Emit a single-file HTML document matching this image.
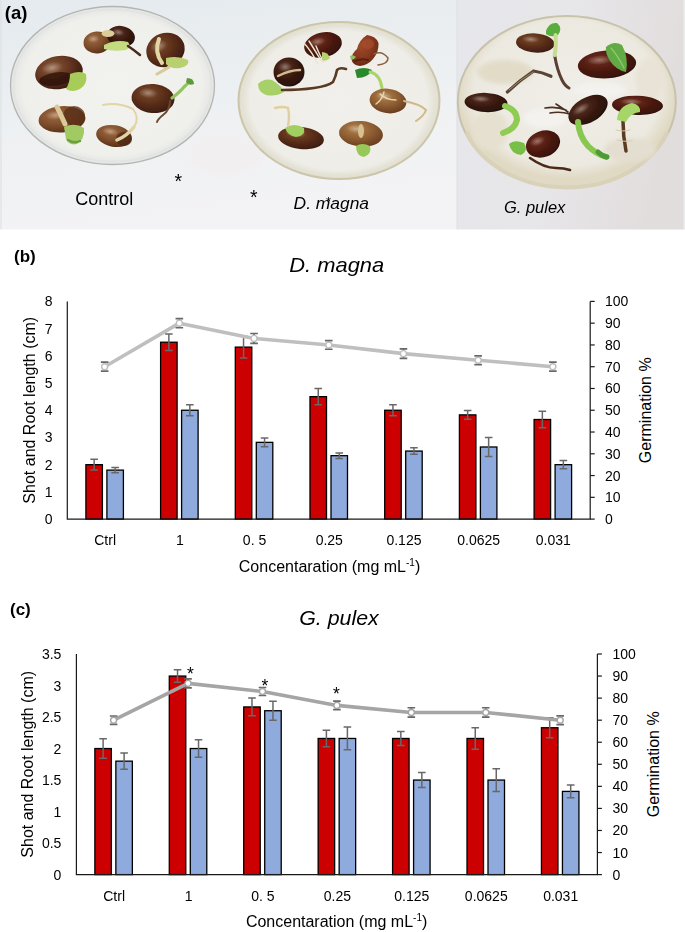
<!DOCTYPE html>
<html><head><meta charset="utf-8"><style>
html,body{margin:0;padding:0;background:#fff;}
svg{display:block;}
text{font-family:"Liberation Sans", sans-serif;fill:#000;}
</style></head><body>
<svg width="685" height="932" viewBox="0 0 685 932">
<rect width="685" height="932" fill="#fff"/>
<defs>
<filter id="bl" x="-10%" y="-10%" width="120%" height="120%"><feGaussianBlur stdDeviation="0.6"/></filter>
<filter id="bl3" x="-30%" y="-30%" width="160%" height="160%"><feGaussianBlur stdDeviation="2.2"/></filter>
<linearGradient id="bgL" x1="0" y1="0" x2="0.25" y2="1">
<stop offset="0" stop-color="#e4eaee"/><stop offset="0.5" stop-color="#edf0f2"/><stop offset="1" stop-color="#f3f3f5"/>
</linearGradient>
<linearGradient id="bgR" x1="0" y1="0" x2="1" y2="0.2">
<stop offset="0" stop-color="#e6e7eb"/><stop offset="0.5" stop-color="#e7e6e9"/><stop offset="1" stop-color="#e2dddd"/>
</linearGradient>
<radialGradient id="p1" cx="0.5" cy="0.5" r="0.5">
<stop offset="0" stop-color="#f2f2ef"/><stop offset="0.88" stop-color="#efefec"/><stop offset="1" stop-color="#e4e6e3"/>
</radialGradient>
<radialGradient id="p2" cx="0.5" cy="0.5" r="0.5">
<stop offset="0" stop-color="#f1f0ec"/><stop offset="0.88" stop-color="#eeede7"/><stop offset="1" stop-color="#e0ddcc"/>
</radialGradient>
<radialGradient id="p3" cx="0.5" cy="0.45" r="0.5">
<stop offset="0" stop-color="#f0eee8"/><stop offset="0.85" stop-color="#ece9e0"/><stop offset="1" stop-color="#e0d9c4"/>
</radialGradient>
<radialGradient id="hl" cx="0.5" cy="0.5" r="0.5">
<stop offset="0" stop-color="#fff" stop-opacity="0.35"/><stop offset="1" stop-color="#fff" stop-opacity="0"/>
</radialGradient>

<radialGradient id="sA" cx="0.38" cy="0.32" r="0.7"><stop offset="0" stop-color="#8a5a38"/><stop offset="0.55" stop-color="#623420"/><stop offset="1" stop-color="#3a1a0e"/></radialGradient>
<radialGradient id="sB" cx="0.38" cy="0.32" r="0.7"><stop offset="0" stop-color="#7a4a2c"/><stop offset="0.55" stop-color="#5a2e18"/><stop offset="1" stop-color="#3e1c10"/></radialGradient>
<radialGradient id="sR" cx="0.38" cy="0.32" r="0.7"><stop offset="0" stop-color="#6e2c1a"/><stop offset="0.55" stop-color="#4e1a10"/><stop offset="1" stop-color="#34100a"/></radialGradient>
<radialGradient id="sK" cx="0.38" cy="0.32" r="0.7"><stop offset="0" stop-color="#583020"/><stop offset="0.55" stop-color="#3a1a10"/><stop offset="1" stop-color="#24100a"/></radialGradient>
<radialGradient id="sL" cx="0.38" cy="0.32" r="0.7"><stop offset="0" stop-color="#b0804c"/><stop offset="0.55" stop-color="#8e5e32"/><stop offset="1" stop-color="#6a3e20"/></radialGradient>
<radialGradient id="sT" cx="0.38" cy="0.32" r="0.7"><stop offset="0" stop-color="#a06a40"/><stop offset="0.55" stop-color="#7e4e2c"/><stop offset="1" stop-color="#5a3018"/></radialGradient>
<radialGradient id="sRR" cx="0.38" cy="0.32" r="0.7"><stop offset="0" stop-color="#a04a2a"/><stop offset="0.55" stop-color="#8a3a20"/><stop offset="1" stop-color="#6a2814"/></radialGradient>
</defs>
<g id="photo">
<rect x="0" y="0" width="457" height="229.5" fill="url(#bgL)"/>
<rect x="457" y="0" width="227.5" height="229.5" fill="url(#bgR)"/>
<ellipse cx="225" cy="155" rx="40" ry="22" fill="#f3eeef" filter="url(#bl3)" opacity="0.5"/>
<rect x="0.5" y="0" width="1" height="229.5" fill="#dadfe2"/>
<rect x="456.5" y="0" width="1" height="229.5" fill="#dcdfe3"/>
<rect x="683.5" y="0" width="1" height="229.5" fill="#ecebeb"/>
<ellipse cx="112.5" cy="85.5" rx="102" ry="79" fill="url(#p1)" stroke="#b2b5b3" stroke-width="1.3"/>
<ellipse cx="112.5" cy="85.5" rx="99" ry="76" fill="none" stroke="#e2e4e2" stroke-width="2"/>
<ellipse cx="339" cy="100.5" rx="100.5" ry="78.5" fill="url(#p2)" stroke="#cbc6aa" stroke-width="2"/>
<ellipse cx="339" cy="100.5" rx="97" ry="75" fill="none" stroke="#e4e2d6" stroke-width="2"/>
<ellipse cx="566.8" cy="101.6" rx="109" ry="85.5" fill="url(#p3)" stroke="#c6c2ac" stroke-width="2"/>
<path d="M667.3 131.9 A106.5 83 0 0 1 466.3 131.9" fill="none" stroke="#d9d1b8" stroke-width="4" filter="url(#bl)"/>
<ellipse cx="505" cy="72" rx="28" ry="12" fill="#e2dbc8" filter="url(#bl3)"/>
<ellipse cx="490" cy="130" rx="18" ry="20" fill="#e6e0d0" filter="url(#bl3)"/>
<ellipse cx="630" cy="150" rx="26" ry="12" fill="#e4ded0" filter="url(#bl3)"/>
<ellipse cx="545" cy="118" rx="22" ry="10" fill="#f3f2ee" filter="url(#bl3)"/>
<ellipse cx="600" cy="90" rx="26" ry="8" fill="#f3f2ee" filter="url(#bl3)"/>
<ellipse cx="650" cy="80" rx="14" ry="22" fill="#e8e3d6" filter="url(#bl3)"/>
<g filter="url(#bl)">
<ellipse cx="59" cy="72.5" rx="24" ry="16.5" transform="rotate(-10 59 72.5)" fill="url(#sA)"/>
<ellipse cx="53" cy="66.725" rx="10.8" ry="5.775" transform="rotate(-10 59 72.5)" fill="url(#hl)"/>
<ellipse cx="56" cy="79" rx="17" ry="6.5" transform="rotate(-8 56 79)" fill="#2a1008" opacity="0.75"/>
<path d="M70 74 Q80 70 86 74 Q88 84 80 89 Q72 93 66 89 Q70 82 70 74Z" fill="#a8cc5a"/>
<ellipse cx="97" cy="42.5" rx="13.5" ry="11" transform="rotate(-5 97 42.5)" fill="url(#sT)"/>
<ellipse cx="93.625" cy="38.65" rx="6.075" ry="3.85" transform="rotate(-5 97 42.5)" fill="url(#hl)"/>
<ellipse cx="121" cy="36.5" rx="14" ry="10.5" transform="rotate(10 121 36.5)" fill="url(#sK)"/>
<ellipse cx="117.5" cy="32.825" rx="6.3" ry="3.675" transform="rotate(10 121 36.5)" fill="url(#hl)"/>
<ellipse cx="108" cy="33.5" rx="6.5" ry="3.5" fill="#dccc9a"/>
<path d="M104 45 Q116 39 128 42 Q132 47 126 50 Q114 52 104 49Z" fill="#c4da80"/>
<path d="M128 46 Q134 50 140 55" fill="none" stroke="#4a2a1a" stroke-width="2.5" stroke-linecap="round"/>
<ellipse cx="165.5" cy="50" rx="19.5" ry="17" transform="rotate(-20 165.5 50)" fill="url(#sB)"/>
<ellipse cx="160.625" cy="44.05" rx="8.775" ry="5.95" transform="rotate(-20 165.5 50)" fill="url(#hl)"/>
<path d="M159 39 Q154 52 162 63" fill="none" stroke="#e2d6a4" stroke-width="4" stroke-linecap="round"/>
<path d="M166 58 Q178 55 188 60 Q190 66 180 68 Q170 69 166 64Z" fill="#b8d070"/>
<path d="M157 74 Q163 71 169 67" fill="none" stroke="#d8c89a" stroke-width="3" stroke-linecap="round"/>
<ellipse cx="153" cy="98.5" rx="21.5" ry="14.5" transform="rotate(5 153 98.5)" fill="url(#sB)"/>
<ellipse cx="147.625" cy="93.425" rx="9.675" ry="5.075" transform="rotate(5 153 98.5)" fill="url(#hl)"/>
<path d="M172 98 Q180 92 184 87 Q188 83 191 81" fill="none" stroke="#94c462" stroke-width="3.2" stroke-linecap="round"/>
<path d="M187 78 Q194 78 194 84 Q189 86 186 82Z" fill="#5c9a3c"/>
<path d="M170 101 Q170 110 163 115 Q158 119 157 122" fill="none" stroke="#6a4a30" stroke-width="2" stroke-linecap="round"/>
<ellipse cx="62" cy="119.3" rx="23.5" ry="13.2" transform="rotate(-4 62 119.3)" fill="url(#sT)"/>
<ellipse cx="56.125" cy="114.68" rx="10.575" ry="4.62" transform="rotate(-4 62 119.3)" fill="url(#hl)"/>
<ellipse cx="74" cy="116" rx="11" ry="10" fill="#5a3018" opacity="0.8"/>
<path d="M57 107 Q61 115 65 124" fill="none" stroke="#dcc898" stroke-width="5" stroke-linecap="round"/>
<path d="M64 127 Q75 122 84 128 Q85 139 77 144 Q69 146 66 139Z" fill="#a2ca62"/>
<path d="M68 140 Q74 144 80 141" fill="none" stroke="#6aa040" stroke-width="2.5" stroke-linecap="round"/>
<ellipse cx="114" cy="136" rx="18" ry="10.8" transform="rotate(10 114 136)" fill="url(#sT)"/>
<ellipse cx="109.5" cy="132.22" rx="8.1" ry="3.78" transform="rotate(10 114 136)" fill="url(#hl)"/>
<ellipse cx="124" cy="139" rx="8" ry="7" fill="#4e2814" opacity="0.75"/>
<path d="M103 105 Q118 102 133 109 Q140 118 134 127" fill="none" stroke="#e2d4a6" stroke-width="2" stroke-linecap="round"/>
<path d="M134 127 Q127 136 117 140" fill="none" stroke="#e2d4a6" stroke-width="3.5" stroke-linecap="round"/>
<ellipse cx="323" cy="45" rx="19" ry="12.5" transform="rotate(-12 323 45)" fill="url(#sR)"/>
<ellipse cx="318.25" cy="40.625" rx="8.55" ry="4.375" transform="rotate(-12 323 45)" fill="url(#hl)"/>
<path d="M304 43 Q312 52 318 64 M309 41 Q316 52 322 62 M316 46 Q320 56 324 62" fill="none" stroke="#ece4d0" stroke-width="1.4" stroke-linecap="round"/>
<path d="M322 52 Q328 52 330 58 Q326 62 322 60Z" fill="#b8d070"/>
<path d="M367 35 Q376 36 378.5 43 Q379 52 373 59 Q368 65 360 66 Q352 65 351.5 59 Q352 53 357 49 Q359 40 367 35Z" fill="url(#sRR)"/>
<ellipse cx="368" cy="44" rx="6" ry="5" fill="#a85030" opacity="0.6"/>
<path d="M355 61 Q362 58 368 60" fill="none" stroke="#5a2010" stroke-width="2" stroke-linecap="round"/>
<path d="M350 56 Q353 54 356 57 Q354 60 351 60Z" fill="#8cc060"/>
<path d="M374 54 Q382 50 388 58 Q388 64 378 65" fill="none" stroke="#8a6040" stroke-width="1.5" stroke-linecap="round"/>
<ellipse cx="289" cy="72" rx="15.5" ry="14.5" transform="rotate(0 289 72)" fill="url(#sK)"/>
<ellipse cx="285.125" cy="66.925" rx="6.975" ry="5.075" transform="rotate(0 289 72)" fill="url(#hl)"/>
<path d="M278 76 Q290 70 300 70" fill="none" stroke="#d0bc90" stroke-width="2.5" stroke-linecap="round"/>
<path d="M258 84 Q264 78 272 80 Q282 86 284 92 Q276 97 266 95 Q258 92 258 84Z" fill="#a8d068"/>
<path d="M282 90 Q300 90 314 88 Q328 86 333 82 Q336 76 337 70 Q340 67 346 69" fill="none" stroke="#5a3a22" stroke-width="2.6" stroke-linecap="round"/>
<path d="M355 70 Q364 66 372 70 Q368 78 357 78Z" fill="#2a8a2a"/>
<path d="M370 72 Q380 74 382 88" fill="none" stroke="#a8d468" stroke-width="3" stroke-linecap="round"/>
<ellipse cx="388" cy="101" rx="18.5" ry="12.2" transform="rotate(8 388 101)" fill="url(#sL)"/>
<ellipse cx="383.375" cy="96.73" rx="8.325" ry="4.27" transform="rotate(8 388 101)" fill="url(#hl)"/>
<path d="M380 94 Q386 100 396 100 M384 92 Q382 100 376 104" fill="none" stroke="#e6d8b0" stroke-width="1.4" stroke-linecap="round"/>
<path d="M404 101 Q420 104 426 110 Q424 116 416 121" fill="none" stroke="#d0b888" stroke-width="2" stroke-linecap="round"/>
<ellipse cx="301" cy="138" rx="23" ry="11" transform="rotate(6 301 138)" fill="url(#sB)"/>
<ellipse cx="295.25" cy="134.15" rx="10.35" ry="3.85" transform="rotate(6 301 138)" fill="url(#hl)"/>
<path d="M285 128 Q294 122 304 128 Q306 136 296 137 Q288 136 285 128Z" fill="#a0d060"/>
<path d="M288 126 Q290 116 288 108 Q282 106 275 108" fill="none" stroke="#e0d0a0" stroke-width="2.4" stroke-linecap="round"/>
<ellipse cx="361" cy="133.8" rx="22" ry="12.8" transform="rotate(5 361 133.8)" fill="url(#sL)"/>
<ellipse cx="355.5" cy="129.32" rx="9.9" ry="4.48" transform="rotate(5 361 133.8)" fill="url(#hl)"/>
<ellipse cx="361" cy="131" rx="3" ry="7" fill="#d8c090"/>
<path d="M356 146 Q362 142 370 146 Q372 154 364 157 Q356 156 356 146Z" fill="#98c858"/>
<path d="M554.6 55 Q557 70 562 80 Q565 86 569 88" fill="none" stroke="#5a4030" stroke-width="3" stroke-linecap="round"/>
<path d="M507.3 92 Q520 80 533.6 71 Q542 72 551 76.3" fill="none" stroke="#5a4434" stroke-width="3.2" stroke-linecap="round"/>
<path d="M509 90 Q521 79 533 72" fill="none" stroke="#9a8a70" stroke-width="1" stroke-linecap="round"/>
<ellipse cx="535.3" cy="43" rx="19.3" ry="9.6" transform="rotate(4 535.3 43)" fill="url(#sB)"/>
<ellipse cx="530.475" cy="39.64" rx="8.685" ry="3.36" transform="rotate(4 535.3 43)" fill="url(#hl)"/>
<path d="M546 31 Q549 22 557 23 Q563 28 558 35 Q551 38 546 34Z" fill="#58ae3e"/>
<path d="M555.5 35 Q556.5 46 554.6 55" fill="none" stroke="#c8dc90" stroke-width="4" stroke-linecap="round"/>
<ellipse cx="607" cy="64.4" rx="29.2" ry="14" transform="rotate(-4 607 64.4)" fill="url(#sR)"/>
<ellipse cx="599.7" cy="59.5" rx="13.14" ry="4.9" transform="rotate(-4 607 64.4)" fill="url(#hl)"/>
<path d="M606 47 Q614 40 622 45 Q629 58 626 72 Q616 70 610 61 Q605 53 606 47Z" fill="#62aa44"/>
<path d="M611 48 Q618 56 624 68" fill="none" stroke="#8ccc6c" stroke-width="1.2" stroke-linecap="round"/>
<ellipse cx="486" cy="102.5" rx="21.5" ry="9.6" transform="rotate(3 486 102.5)" fill="url(#sK)"/>
<ellipse cx="480.625" cy="99.14" rx="9.675" ry="3.36" transform="rotate(3 486 102.5)" fill="url(#hl)"/>
<path d="M505 106 Q517 110 517 120 Q515 129 503 133" fill="none" stroke="#90cc52" stroke-width="6" stroke-linecap="round"/>
<path d="M545 108 Q556 106 566 110 M550 113 Q560 111 570 114 M556 104 Q562 108 568 112" fill="none" stroke="#4a3020" stroke-width="1.6" stroke-linecap="round"/>
<ellipse cx="588" cy="110" rx="21.5" ry="12.5" transform="rotate(-30 588 110)" fill="url(#sK)"/>
<ellipse cx="582.625" cy="105.625" rx="9.675" ry="4.375" transform="rotate(-30 588 110)" fill="url(#hl)"/>
<path d="M578 122 Q579 136 588 146 Q596 154 606 157" fill="none" stroke="#88c850" stroke-width="6" stroke-linecap="round"/>
<path d="M598 152 Q602 156 607 157" fill="none" stroke="#4f9a38" stroke-width="5" stroke-linecap="round"/>
<ellipse cx="637.5" cy="105.3" rx="25.5" ry="9.6" transform="rotate(2 637.5 105.3)" fill="url(#sR)"/>
<ellipse cx="631.125" cy="101.94" rx="11.475" ry="3.36" transform="rotate(2 637.5 105.3)" fill="url(#hl)"/>
<path d="M623 121 Q623 136 626 151" fill="none" stroke="#5a3a24" stroke-width="3.5" stroke-linecap="round"/>
<path d="M616 130 Q622 132 630 130 M617 140 Q623 142 632 141" fill="none" stroke="#d8cca8" stroke-width="1" stroke-linecap="round"/>
<path d="M617 120 Q618 106 632 103 Q641 105 640 112 Q630 113 626 122Z" fill="#a6d668"/>
<path d="M530 158 Q544 168 556 168 Q564 168 570 170" fill="none" stroke="#4a2a18" stroke-width="2.6" stroke-linecap="round"/>
<ellipse cx="543" cy="144" rx="17.5" ry="13" transform="rotate(-20 543 144)" fill="url(#sR)"/>
<ellipse cx="538.625" cy="139.45" rx="7.875" ry="4.55" transform="rotate(-20 543 144)" fill="url(#hl)"/>
<path d="M509 144 Q514 139 524 143 Q529 151 521 155 Q511 154 509 144Z" fill="#78be46"/>
</g>
<text x="4.8" y="18.6" font-size="18.5" font-weight="bold">(a)</text>
<text x="178.3" y="188" font-size="19.5" text-anchor="middle">*</text>
<text x="253.9" y="204" font-size="19.5" text-anchor="middle">*</text>
<text x="75.3" y="205" font-size="18">Control</text>
<text x="293.6" y="208.5" font-size="17.4" font-style="italic">D. magna</text>
<text x="328.6" y="206" font-size="13" text-anchor="middle">*</text>
<text x="503.9" y="213" font-size="16.5" font-style="italic">G. pulex</text>
</g>
<g>
<rect x="85.9" y="464.68" width="16.5" height="54.43" fill="#CC0000" stroke="#000" stroke-width="1.3"/>
<rect x="106.9" y="470.12" width="16.5" height="48.98" fill="#8FAADC" stroke="#000" stroke-width="1.3"/>
<rect x="160.6" y="342.22" width="16.5" height="176.88" fill="#CC0000" stroke="#000" stroke-width="1.3"/>
<rect x="181.6" y="410.25" width="16.5" height="108.85" fill="#8FAADC" stroke="#000" stroke-width="1.3"/>
<rect x="235.3" y="347.12" width="16.5" height="171.98" fill="#CC0000" stroke="#000" stroke-width="1.3"/>
<rect x="256.3" y="442.36" width="16.5" height="76.74" fill="#8FAADC" stroke="#000" stroke-width="1.3"/>
<rect x="310" y="396.64" width="16.5" height="122.46" fill="#CC0000" stroke="#000" stroke-width="1.3"/>
<rect x="331" y="455.69" width="16.5" height="63.41" fill="#8FAADC" stroke="#000" stroke-width="1.3"/>
<rect x="384.7" y="410.25" width="16.5" height="108.85" fill="#CC0000" stroke="#000" stroke-width="1.3"/>
<rect x="405.7" y="451.07" width="16.5" height="68.03" fill="#8FAADC" stroke="#000" stroke-width="1.3"/>
<rect x="459.4" y="414.88" width="16.5" height="104.22" fill="#CC0000" stroke="#000" stroke-width="1.3"/>
<rect x="480.4" y="446.99" width="16.5" height="72.11" fill="#8FAADC" stroke="#000" stroke-width="1.3"/>
<rect x="534.1" y="419.5" width="16.5" height="99.6" fill="#CC0000" stroke="#000" stroke-width="1.3"/>
<rect x="555.1" y="464.68" width="16.5" height="54.43" fill="#8FAADC" stroke="#000" stroke-width="1.3"/>
<path d="M94.15 459.23V470.12M90.35 459.23H97.95M90.35 470.12H97.95" stroke="#686868" stroke-width="1.5" fill="none"/>
<path d="M115.15 467.4V472.84M111.35 467.4H118.95M111.35 472.84H118.95" stroke="#686868" stroke-width="1.5" fill="none"/>
<path d="M168.85 334.05V350.38M165.05 334.05H172.65M165.05 350.38H172.65" stroke="#686868" stroke-width="1.5" fill="none"/>
<path d="M189.85 404.81V415.69M186.05 404.81H193.65M186.05 415.69H193.65" stroke="#686868" stroke-width="1.5" fill="none"/>
<path d="M243.55 336.23V358M239.75 336.23H247.35M239.75 358H247.35" stroke="#686868" stroke-width="1.5" fill="none"/>
<path d="M264.55 438.01V446.71M260.75 438.01H268.35M260.75 446.71H268.35" stroke="#686868" stroke-width="1.5" fill="none"/>
<path d="M318.25 388.48V404.81M314.45 388.48H322.05M314.45 404.81H322.05" stroke="#686868" stroke-width="1.5" fill="none"/>
<path d="M339.25 452.97V458.42M335.45 452.97H343.05M335.45 458.42H343.05" stroke="#686868" stroke-width="1.5" fill="none"/>
<path d="M392.95 404.81V415.69M389.15 404.81H396.75M389.15 415.69H396.75" stroke="#686868" stroke-width="1.5" fill="none"/>
<path d="M413.95 447.8V454.33M410.15 447.8H417.75M410.15 454.33H417.75" stroke="#686868" stroke-width="1.5" fill="none"/>
<path d="M467.65 410.52V419.23M463.85 410.52H471.45M463.85 419.23H471.45" stroke="#686868" stroke-width="1.5" fill="none"/>
<path d="M488.65 437.46V456.51M484.85 437.46H492.45M484.85 456.51H492.45" stroke="#686868" stroke-width="1.5" fill="none"/>
<path d="M542.35 411.34V427.67M538.55 411.34H546.15M538.55 427.67H546.15" stroke="#686868" stroke-width="1.5" fill="none"/>
<path d="M563.35 460.59V468.76M559.55 460.59H567.15M559.55 468.76H567.15" stroke="#686868" stroke-width="1.5" fill="none"/>
<path d="M67.3 301.4V519.1H590.2V301.4" stroke="#1a1a1a" stroke-width="1.2" fill="none"/>
<path d="M590.2 519.1H594.7" stroke="#1a1a1a" stroke-width="1.2"/>
<path d="M590.2 497.33H594.7" stroke="#1a1a1a" stroke-width="1.2"/>
<path d="M590.2 475.56H594.7" stroke="#1a1a1a" stroke-width="1.2"/>
<path d="M590.2 453.79H594.7" stroke="#1a1a1a" stroke-width="1.2"/>
<path d="M590.2 432.02H594.7" stroke="#1a1a1a" stroke-width="1.2"/>
<path d="M590.2 410.25H594.7" stroke="#1a1a1a" stroke-width="1.2"/>
<path d="M590.2 388.48H594.7" stroke="#1a1a1a" stroke-width="1.2"/>
<path d="M590.2 366.71H594.7" stroke="#1a1a1a" stroke-width="1.2"/>
<path d="M590.2 344.94H594.7" stroke="#1a1a1a" stroke-width="1.2"/>
<path d="M590.2 323.17H594.7" stroke="#1a1a1a" stroke-width="1.2"/>
<path d="M590.2 301.4H594.7" stroke="#1a1a1a" stroke-width="1.2"/>
<polyline points="104.65,366.71 179.35,323.17 254.05,338.41 328.75,344.94 403.45,353.65 478.15,360.18 552.85,366.71" fill="none" stroke="#BFBFBF" stroke-width="3.6" stroke-linejoin="round"/>
<path d="M104.65 362.21V371.21M100.85 362.21H108.45M100.85 371.21H108.45" stroke="#686868" stroke-width="1.7" fill="none"/>
<circle cx="104.65" cy="366.71" r="3.0" fill="#fff" stroke="#BFBFBF" stroke-width="1.4"/>
<path d="M179.35 318.57V327.77M175.55 318.57H183.15M175.55 327.77H183.15" stroke="#686868" stroke-width="1.7" fill="none"/>
<circle cx="179.35" cy="323.17" r="3.0" fill="#fff" stroke="#BFBFBF" stroke-width="1.4"/>
<path d="M254.05 333.51V343.31M250.25 333.51H257.85M250.25 343.31H257.85" stroke="#686868" stroke-width="1.7" fill="none"/>
<circle cx="254.05" cy="338.41" r="3.0" fill="#fff" stroke="#BFBFBF" stroke-width="1.4"/>
<path d="M328.75 340.64V349.24M324.95 340.64H332.55M324.95 349.24H332.55" stroke="#686868" stroke-width="1.7" fill="none"/>
<circle cx="328.75" cy="344.94" r="3.0" fill="#fff" stroke="#BFBFBF" stroke-width="1.4"/>
<path d="M403.45 348.85V358.45M399.65 348.85H407.25M399.65 358.45H407.25" stroke="#686868" stroke-width="1.7" fill="none"/>
<circle cx="403.45" cy="353.65" r="3.0" fill="#fff" stroke="#BFBFBF" stroke-width="1.4"/>
<path d="M478.15 355.78V364.58M474.35 355.78H481.95M474.35 364.58H481.95" stroke="#686868" stroke-width="1.7" fill="none"/>
<circle cx="478.15" cy="360.18" r="3.0" fill="#fff" stroke="#BFBFBF" stroke-width="1.4"/>
<path d="M552.85 362.21V371.21M549.05 362.21H556.65M549.05 371.21H556.65" stroke="#686868" stroke-width="1.7" fill="none"/>
<circle cx="552.85" cy="366.71" r="3.0" fill="#fff" stroke="#BFBFBF" stroke-width="1.4"/>
<text x="52.6" y="524.1" font-size="14" text-anchor="end">0</text>
<text x="52.6" y="496.89" font-size="14" text-anchor="end">1</text>
<text x="52.6" y="469.68" font-size="14" text-anchor="end">2</text>
<text x="52.6" y="442.46" font-size="14" text-anchor="end">3</text>
<text x="52.6" y="415.25" font-size="14" text-anchor="end">4</text>
<text x="52.6" y="388.04" font-size="14" text-anchor="end">5</text>
<text x="52.6" y="360.82" font-size="14" text-anchor="end">6</text>
<text x="52.6" y="333.61" font-size="14" text-anchor="end">7</text>
<text x="52.6" y="306.4" font-size="14" text-anchor="end">8</text>
<text x="605" y="524.1" font-size="14">0</text>
<text x="605" y="502.33" font-size="14">10</text>
<text x="605" y="480.56" font-size="14">20</text>
<text x="605" y="458.79" font-size="14">30</text>
<text x="605" y="437.02" font-size="14">40</text>
<text x="605" y="415.25" font-size="14">50</text>
<text x="605" y="393.48" font-size="14">60</text>
<text x="605" y="371.71" font-size="14">70</text>
<text x="605" y="349.94" font-size="14">80</text>
<text x="605" y="328.17" font-size="14">90</text>
<text x="605" y="306.4" font-size="14">100</text>
<text x="105.15" y="545" font-size="14" text-anchor="middle">Ctrl</text>
<text x="179.85" y="545" font-size="14" text-anchor="middle">1</text>
<text x="254.55" y="545" font-size="14" text-anchor="middle">0. 5</text>
<text x="329.25" y="545" font-size="14" text-anchor="middle">0.25</text>
<text x="403.95" y="545" font-size="14" text-anchor="middle">0.125</text>
<text x="478.65" y="545" font-size="14" text-anchor="middle">0.0625</text>
<text x="553.35" y="545" font-size="14" text-anchor="middle">0.031</text>
<text x="329.5" y="571.7" font-size="16" text-anchor="middle">Concentaration (mg mL<tspan font-size="10" dy="-6">-1</tspan><tspan dy="6">)</tspan></text>
<text transform="translate(35 410.25) rotate(-90)" font-size="16" text-anchor="middle">Shot and Root length (cm)</text>
<text transform="translate(651.4 410.25) rotate(-90)" font-size="16" text-anchor="middle">Germination %</text>
<text x="289.2" y="272.4" font-size="21" font-style="italic" textLength="95" lengthAdjust="spacingAndGlyphs">D. magna</text>
<text x="14" y="261.5" font-size="17" font-weight="bold">(b)</text>
</g>
<g>
<rect x="94.86" y="748.54" width="16.5" height="126.06" fill="#CC0000" stroke="#000" stroke-width="1.3"/>
<rect x="115.86" y="761.15" width="16.5" height="113.45" fill="#8FAADC" stroke="#000" stroke-width="1.3"/>
<rect x="169.29" y="676.06" width="16.5" height="198.54" fill="#CC0000" stroke="#000" stroke-width="1.3"/>
<rect x="190.29" y="748.54" width="16.5" height="126.06" fill="#8FAADC" stroke="#000" stroke-width="1.3"/>
<rect x="243.72" y="706.94" width="16.5" height="167.66" fill="#CC0000" stroke="#000" stroke-width="1.3"/>
<rect x="264.72" y="710.73" width="16.5" height="163.87" fill="#8FAADC" stroke="#000" stroke-width="1.3"/>
<rect x="318.15" y="738.46" width="16.5" height="136.14" fill="#CC0000" stroke="#000" stroke-width="1.3"/>
<rect x="339.15" y="738.46" width="16.5" height="136.14" fill="#8FAADC" stroke="#000" stroke-width="1.3"/>
<rect x="392.58" y="738.46" width="16.5" height="136.14" fill="#CC0000" stroke="#000" stroke-width="1.3"/>
<rect x="413.58" y="780.06" width="16.5" height="94.54" fill="#8FAADC" stroke="#000" stroke-width="1.3"/>
<rect x="467.01" y="738.46" width="16.5" height="136.14" fill="#CC0000" stroke="#000" stroke-width="1.3"/>
<rect x="488.01" y="780.06" width="16.5" height="94.54" fill="#8FAADC" stroke="#000" stroke-width="1.3"/>
<rect x="541.44" y="727.74" width="16.5" height="146.86" fill="#CC0000" stroke="#000" stroke-width="1.3"/>
<rect x="562.44" y="791.4" width="16.5" height="83.2" fill="#8FAADC" stroke="#000" stroke-width="1.3"/>
<path d="M103.11 738.77V758.31M99.31 738.77H106.91M99.31 758.31H106.91" stroke="#686868" stroke-width="1.5" fill="none"/>
<path d="M124.11 752.95V769.34M120.31 752.95H127.91M120.31 769.34H127.91" stroke="#686868" stroke-width="1.5" fill="none"/>
<path d="M177.54 669.76V682.36M173.74 669.76H181.34M173.74 682.36H181.34" stroke="#686868" stroke-width="1.5" fill="none"/>
<path d="M198.54 739.72V757.37M194.74 739.72H202.34M194.74 757.37H202.34" stroke="#686868" stroke-width="1.5" fill="none"/>
<path d="M251.97 698.12V715.77M248.17 698.12H255.77M248.17 715.77H255.77" stroke="#686868" stroke-width="1.5" fill="none"/>
<path d="M272.97 701.27V720.18M269.17 701.27H276.77M269.17 720.18H276.77" stroke="#686868" stroke-width="1.5" fill="none"/>
<path d="M326.4 730.26V746.65M322.6 730.26H330.2M322.6 746.65H330.2" stroke="#686868" stroke-width="1.5" fill="none"/>
<path d="M347.4 727.11V749.8M343.6 727.11H351.2M343.6 749.8H351.2" stroke="#686868" stroke-width="1.5" fill="none"/>
<path d="M400.83 731.53V745.39M397.03 731.53H404.63M397.03 745.39H404.63" stroke="#686868" stroke-width="1.5" fill="none"/>
<path d="M421.83 772.49V787.62M418.03 772.49H425.63M418.03 787.62H425.63" stroke="#686868" stroke-width="1.5" fill="none"/>
<path d="M475.26 727.74V749.17M471.46 727.74H479.06M471.46 749.17H479.06" stroke="#686868" stroke-width="1.5" fill="none"/>
<path d="M496.26 768.71V791.4M492.46 768.71H500.06M492.46 791.4H500.06" stroke="#686868" stroke-width="1.5" fill="none"/>
<path d="M549.69 717.66V737.83M545.89 717.66H553.49M545.89 737.83H553.49" stroke="#686868" stroke-width="1.5" fill="none"/>
<path d="M570.69 785.1V797.71M566.89 785.1H574.49M566.89 797.71H574.49" stroke="#686868" stroke-width="1.5" fill="none"/>
<path d="M76.4 654V874.6H597.4V654" stroke="#1a1a1a" stroke-width="1.2" fill="none"/>
<path d="M597.4 874.6H601.9" stroke="#1a1a1a" stroke-width="1.2"/>
<path d="M597.4 852.54H601.9" stroke="#1a1a1a" stroke-width="1.2"/>
<path d="M597.4 830.48H601.9" stroke="#1a1a1a" stroke-width="1.2"/>
<path d="M597.4 808.42H601.9" stroke="#1a1a1a" stroke-width="1.2"/>
<path d="M597.4 786.36H601.9" stroke="#1a1a1a" stroke-width="1.2"/>
<path d="M597.4 764.3H601.9" stroke="#1a1a1a" stroke-width="1.2"/>
<path d="M597.4 742.24H601.9" stroke="#1a1a1a" stroke-width="1.2"/>
<path d="M597.4 720.18H601.9" stroke="#1a1a1a" stroke-width="1.2"/>
<path d="M597.4 698.12H601.9" stroke="#1a1a1a" stroke-width="1.2"/>
<path d="M597.4 676.06H601.9" stroke="#1a1a1a" stroke-width="1.2"/>
<path d="M597.4 654H601.9" stroke="#1a1a1a" stroke-width="1.2"/>
<polyline points="113.61,720.18 188.04,683.34 262.47,691.5 336.9,705.4 411.33,712.46 485.76,712.46 560.19,720.18" fill="none" stroke="#A5A5A5" stroke-width="3.6" stroke-linejoin="round"/>
<path d="M113.61 715.98V724.38M109.81 715.98H117.41M109.81 724.38H117.41" stroke="#686868" stroke-width="1.7" fill="none"/>
<circle cx="113.61" cy="720.18" r="3.0" fill="#fff" stroke="#A5A5A5" stroke-width="1.4"/>
<path d="M188.04 678.84V687.84M184.24 678.84H191.84M184.24 687.84H191.84" stroke="#686868" stroke-width="1.7" fill="none"/>
<circle cx="188.04" cy="683.34" r="3.0" fill="#fff" stroke="#A5A5A5" stroke-width="1.4"/>
<path d="M262.47 687.5V695.5M258.67 687.5H266.27M258.67 695.5H266.27" stroke="#686868" stroke-width="1.7" fill="none"/>
<circle cx="262.47" cy="691.5" r="3.0" fill="#fff" stroke="#A5A5A5" stroke-width="1.4"/>
<path d="M336.9 701.2V709.6M333.1 701.2H340.7M333.1 709.6H340.7" stroke="#686868" stroke-width="1.7" fill="none"/>
<circle cx="336.9" cy="705.4" r="3.0" fill="#fff" stroke="#A5A5A5" stroke-width="1.4"/>
<path d="M411.33 707.76V717.16M407.53 707.76H415.13M407.53 717.16H415.13" stroke="#686868" stroke-width="1.7" fill="none"/>
<circle cx="411.33" cy="712.46" r="3.0" fill="#fff" stroke="#A5A5A5" stroke-width="1.4"/>
<path d="M485.76 707.76V717.16M481.96 707.76H489.56M481.96 717.16H489.56" stroke="#686868" stroke-width="1.7" fill="none"/>
<circle cx="485.76" cy="712.46" r="3.0" fill="#fff" stroke="#A5A5A5" stroke-width="1.4"/>
<path d="M560.19 715.78V724.58M556.39 715.78H563.99M556.39 724.58H563.99" stroke="#686868" stroke-width="1.7" fill="none"/>
<circle cx="560.19" cy="720.18" r="3.0" fill="#fff" stroke="#A5A5A5" stroke-width="1.4"/>
<text x="190.3" y="679.8" font-size="17.5" text-anchor="middle">*</text>
<text x="264.9" y="691.8" font-size="17.5" text-anchor="middle">*</text>
<text x="336.3" y="700.3" font-size="17.5" text-anchor="middle">*</text>
<text x="61.4" y="879.6" font-size="14" text-anchor="end">0</text>
<text x="61.4" y="848.09" font-size="14" text-anchor="end">0.5</text>
<text x="61.4" y="816.57" font-size="14" text-anchor="end">1</text>
<text x="61.4" y="785.06" font-size="14" text-anchor="end">1.5</text>
<text x="61.4" y="753.54" font-size="14" text-anchor="end">2</text>
<text x="61.4" y="722.03" font-size="14" text-anchor="end">2.5</text>
<text x="61.4" y="690.51" font-size="14" text-anchor="end">3</text>
<text x="61.4" y="659" font-size="14" text-anchor="end">3.5</text>
<text x="612.4" y="879.6" font-size="14">0</text>
<text x="612.4" y="857.54" font-size="14">10</text>
<text x="612.4" y="835.48" font-size="14">20</text>
<text x="612.4" y="813.42" font-size="14">30</text>
<text x="612.4" y="791.36" font-size="14">40</text>
<text x="612.4" y="769.3" font-size="14">50</text>
<text x="612.4" y="747.24" font-size="14">60</text>
<text x="612.4" y="725.18" font-size="14">70</text>
<text x="612.4" y="703.12" font-size="14">80</text>
<text x="612.4" y="681.06" font-size="14">90</text>
<text x="612.4" y="659" font-size="14">100</text>
<text x="114.11" y="900.5" font-size="14" text-anchor="middle">Ctrl</text>
<text x="188.54" y="900.5" font-size="14" text-anchor="middle">1</text>
<text x="262.97" y="900.5" font-size="14" text-anchor="middle">0. 5</text>
<text x="337.4" y="900.5" font-size="14" text-anchor="middle">0.25</text>
<text x="411.83" y="900.5" font-size="14" text-anchor="middle">0.125</text>
<text x="486.26" y="900.5" font-size="14" text-anchor="middle">0.0625</text>
<text x="560.69" y="900.5" font-size="14" text-anchor="middle">0.031</text>
<text x="336.6" y="926.7" font-size="16" text-anchor="middle">Concentaration (mg mL<tspan font-size="10" dy="-6">-1</tspan><tspan dy="6">)</tspan></text>
<text transform="translate(32.5 764.3) rotate(-90)" font-size="16" text-anchor="middle">Shot and Root length (cm)</text>
<text transform="translate(658.5 764.3) rotate(-90)" font-size="16" text-anchor="middle">Germination %</text>
<text x="299.2" y="625.4" font-size="21" font-style="italic" textLength="79.5" lengthAdjust="spacingAndGlyphs">G. pulex</text>
<text x="10" y="614.5" font-size="17" font-weight="bold">(c)</text>
</g>
</svg>
</body></html>
